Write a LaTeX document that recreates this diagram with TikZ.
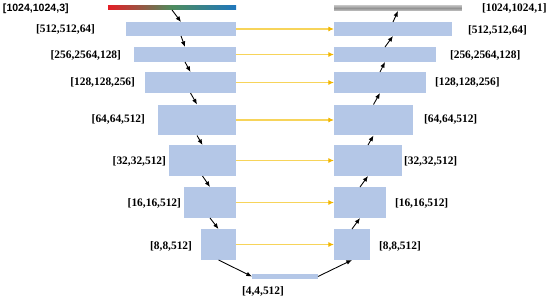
\documentclass[tikz,border=0pt]{standalone}
\usepackage{fontspec}
\setmainfont{Liberation Serif}
\newfontfamily\labelsans{Liberation Sans}
\usetikzlibrary{arrows.meta}
\definecolor{boxblue}{HTML}{B4C7E7}
\definecolor{skipline}{HTML}{F7D45A}
\definecolor{skiptip}{HTML}{F2B600}
\definecolor{barred}{HTML}{E41E26}
\definecolor{bargreen}{HTML}{4E8C5E}
\definecolor{barblue}{HTML}{1F77BD}

\begin{document}
\begin{tikzpicture}[
    x=0.02cm, y=-0.02cm,
    >=Latex,
    every node/.style={font=\bfseries\fontsize{6.5}{7}\selectfont, inner sep=0pt, outer sep=0pt},
    block/.style={fill=boxblue, minimum height=0.62cm},
    enc/.style={block, anchor=north east},
    dec/.style={block, anchor=north west},
    flow/.style={->, line width=0.5pt, >={Latex[length=3.2pt,width=2.6pt]}},
    skiparrow/.style={draw=skipline, line width=0.6pt, -{Latex[length=3.2pt,width=2.8pt,color=skiptip]}}
]
\useasboundingbox (0,0) rectangle (550,301);

% input / output bars
\node[anchor=north east, minimum width=2.56cm, minimum height=0.1cm,
      left color=barred, right color=barblue, middle color=bargreen] (in) at (236,5) {};
\node[anchor=north west, minimum width=2.56cm, minimum height=0.12cm,
      top color=gray!45, bottom color=gray!45, middle color=gray!85] (out) at (334,5) {};

% encoder
\node[enc, minimum width=2.20cm, minimum height=0.28cm] (e1) at (236,22) {};
\node[enc, minimum width=2.04cm, minimum height=0.30cm] (e2) at (236,47) {};
\node[enc, minimum width=1.82cm, minimum height=0.42cm] (e3) at (236,72) {};
\node[enc, minimum width=1.56cm] (e4) at (236,104.5) {};
\node[enc, minimum width=1.34cm] (e5) at (236,145) {};
\node[enc, minimum width=1.04cm] (e6) at (236,187) {};
\node[enc, minimum width=0.70cm] (e7) at (236,229) {};

% bottleneck
\node[block, anchor=north west, minimum width=1.32cm, minimum height=0.1cm] (b) at (252,274) {};

% decoder
\node[dec, minimum width=2.36cm, minimum height=0.28cm] (d1) at (334,22) {};
\node[dec, minimum width=2.04cm, minimum height=0.30cm] (d2) at (334,47) {};
\node[dec, minimum width=1.84cm, minimum height=0.42cm] (d3) at (334,72) {};
\node[dec, minimum width=1.58cm] (d4) at (334,104.5) {};
\node[dec, minimum width=1.36cm] (d5) at (334,145) {};
\node[dec, minimum width=1.04cm] (d6) at (334,187) {};
\node[dec, minimum width=0.72cm] (d7) at (334,229) {};

% sizes
\node[anchor=west, font=\labelsans\bfseries\fontsize{6}{7}\selectfont] (lin) at (3,9) {[1024,1024,3]};
\node[anchor=east] (le1) at (95,29) {[512,512,64]};
\node[anchor=east] (le2) at (121,55) {[256,2564,128]};
\node[anchor=east] (le3) at (135,82) {[128,128,256]};
\node[anchor=east] (le4) at (145,119) {[64,64,512]};
\node[anchor=east] (le5) at (166,161) {[32,32,512]};
\node[anchor=east] (le6) at (181,203) {[16,16,512]};
\node[anchor=east] (le7) at (192,246) {[8,8,512]};
\node (lb) at (263,291) {[4,4,512]};
\node[anchor=west] (lout) at (482,8) {[1024,1024,1]};
\node[anchor=west] (ld1) at (468,30) {[512,512,64]};
\node[anchor=west] (ld2) at (450,55) {[256,2564,128]};
\node[anchor=west] (ld3) at (435,82) {[128,128,256]};
\node[anchor=west] (ld4) at (424,119) {[64,64,512]};
\node[anchor=west] (ld5) at (404,161) {[32,32,512]};
\node[anchor=west] (ld6) at (395,203) {[16,16,512]};
\node[anchor=west] (ld7) at (379,246) {[8,8,512]};

% connectors
\foreach \i in {1,...,7}
    \draw[skiparrow] (e\i.east) -- (d\i.west);
\foreach \a/\b in {in/e1,e1/e2,e2/e3,e3/e4,e4/e5,e5/e6,e6/e7}
    \draw[flow] (\a.south) -- (\b.north);
\foreach \a/\b in {d7/d6,d6/d5,d5/d4,d4/d3,d3/d2,d2/d1,d1/out}
    \draw[flow] (\a.north) -- (\b.south);
\draw[flow] (e7.south) -- (b.west);
\draw[flow] (b.east) -- (d7.south);
\end{tikzpicture}
\end{document}
